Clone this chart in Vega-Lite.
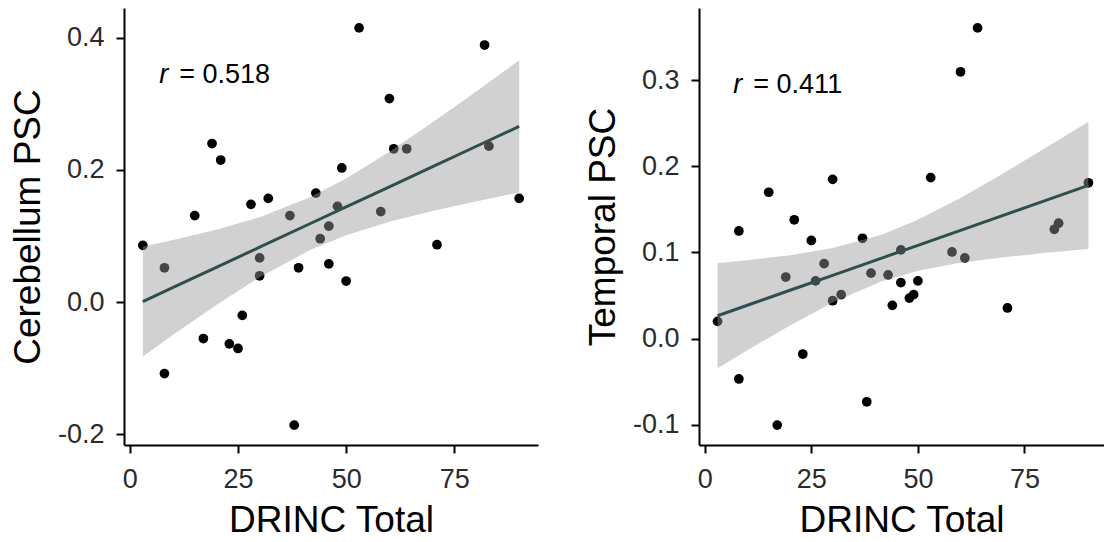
{
  "$schema": "https://vega.github.io/schema/vega-lite/v6.json",
  "padding": {"left": 9, "top": 8, "right": 0, "bottom": 0},
  "background": "white",
  "spacing": 46,
  "config": {
    "font": "Liberation Sans",
    "view": {"stroke": null},
    "axis": {
      "grid": false,
      "domainColor": "#000000",
      "domainWidth": 2,
      "tickColor": "#000000",
      "tickWidth": 2,
      "tickSize": 8,
      "labelFont": "Liberation Sans",
      "labelFontSize": 27,
      "labelColor": "#2b2b2b",
      "labelPadding": 12,
      "titleFont": "Liberation Sans",
      "titleFontSize": 37,
      "titleFontWeight": "normal",
      "titleColor": "#000000"
    },
    "axisY": {"titlePadding": 10},
    "axisX": {"titlePadding": 10, "labelPadding": 13}
  },
  "hconcat": [
    {
      "width": 414,
      "height": 437,
      "encoding": {
        "x": {"field": "drinc", "type": "quantitative", "title": "DRINC Total",
              "scale": {"domain": [-1.35, 94.35], "nice": false, "zero": false},
              "axis": {"values": [0, 25, 50, 75]}},
        "y": {"field": "psc", "type": "quantitative", "title": "Cerebellum PSC",
              "scale": {"domain": [-0.216, 0.445], "nice": false, "zero": false},
              "axis": {"values": [-0.2, 0, 0.2, 0.4], "labelExpr": "replace(format(datum.value, '.1f'), '\u2212', '-')"}}
      },
      "layer": [
        {
          "data": {"values": [
            {"drinc": 3, "psc": 0.086}, {"drinc": 8, "psc": 0.052}, {"drinc": 8, "psc": -0.108},
            {"drinc": 15, "psc": 0.131}, {"drinc": 19, "psc": 0.240}, {"drinc": 21, "psc": 0.215},
            {"drinc": 17, "psc": -0.055}, {"drinc": 23, "psc": -0.063}, {"drinc": 25, "psc": -0.070},
            {"drinc": 26, "psc": -0.020}, {"drinc": 28, "psc": 0.148}, {"drinc": 32, "psc": 0.157},
            {"drinc": 30, "psc": 0.067}, {"drinc": 30, "psc": 0.040}, {"drinc": 37, "psc": 0.131},
            {"drinc": 39, "psc": 0.052}, {"drinc": 38, "psc": -0.186}, {"drinc": 43, "psc": 0.165},
            {"drinc": 44, "psc": 0.096}, {"drinc": 53, "psc": 0.415}, {"drinc": 82, "psc": 0.389},
            {"drinc": 60, "psc": 0.308}, {"drinc": 61, "psc": 0.232}, {"drinc": 64, "psc": 0.232},
            {"drinc": 49, "psc": 0.203}, {"drinc": 48, "psc": 0.145}, {"drinc": 46, "psc": 0.115},
            {"drinc": 46, "psc": 0.058}, {"drinc": 50, "psc": 0.032}, {"drinc": 58, "psc": 0.137},
            {"drinc": 71, "psc": 0.087}, {"drinc": 83, "psc": 0.236}, {"drinc": 90, "psc": 0.157}
          ]},
          "mark": {"type": "circle", "size": 95, "color": "#000000", "opacity": 1}
        },
        {
          "data": {"name": "bandL", "values": [
            {"drinc": 3, "psc": 0.001, "lo": -0.082, "hi": 0.084},
            {"drinc": 10, "psc": 0.0223, "lo": -0.0494, "hi": 0.0940},
            {"drinc": 20, "psc": 0.0528, "lo": -0.0041, "hi": 0.1097},
            {"drinc": 30, "psc": 0.0832, "lo": 0.0378, "hi": 0.1286},
            {"drinc": 41.5, "psc": 0.1183, "lo": 0.0784, "hi": 0.1582},
            {"drinc": 50, "psc": 0.1442, "lo": 0.1012, "hi": 0.1872},
            {"drinc": 60, "psc": 0.1746, "lo": 0.1216, "hi": 0.2276},
            {"drinc": 70, "psc": 0.2051, "lo": 0.1381, "hi": 0.2721},
            {"drinc": 80, "psc": 0.2355, "lo": 0.1525, "hi": 0.3185},
            {"drinc": 90, "psc": 0.266, "lo": 0.166, "hi": 0.366}
          ]},
          "mark": {"type": "area", "color": "#999999", "opacity": 0.45},
          "encoding": {
            "y": {"field": "lo", "type": "quantitative", "title": "Cerebellum PSC",
                  "scale": {"domain": [-0.216, 0.445], "nice": false, "zero": false}},
            "y2": {"field": "hi"}
          }
        },
        {
          "data": {"name": "bandL"},
          "mark": {"type": "line", "color": "#2F4F4F", "strokeWidth": 3},
          "encoding": {}
        },
        {
          "data": {"values": [{"drinc": 6.8, "psc": 0.3316, "lab": "r"}]},
          "mark": {"type": "text", "align": "left", "baseline": "alphabetic", "fontSize": 27, "fontStyle": "italic", "color": "#000000"},
          "encoding": {"text": {"field": "lab"}}
        },
        {
          "data": {"values": [{"drinc": 6.8, "psc": 0.3316, "lab": "= 0.518"}]},
          "mark": {"type": "text", "align": "left", "baseline": "alphabetic", "fontSize": 27, "dx": 20, "color": "#000000"},
          "encoding": {"text": {"field": "lab"}}
        }
      ]
    },
    {
      "width": 405,
      "height": 437,
      "encoding": {
        "x": {"field": "drinc", "type": "quantitative", "title": "DRINC Total",
              "scale": {"domain": [-1.35, 93.65], "nice": false, "zero": false},
              "axis": {"values": [0, 25, 50, 75]}},
        "y": {"field": "psc", "type": "quantitative", "title": "Temporal PSC",
              "scale": {"domain": [-0.1237, 0.3841], "nice": false, "zero": false},
              "axis": {"values": [-0.1, 0, 0.1, 0.2, 0.3], "labelExpr": "replace(format(datum.value, '.1f'), '\u2212', '-')"}}
      },
      "layer": [
        {
          "data": {"values": [
            {"drinc": 3, "psc": 0.020}, {"drinc": 8, "psc": 0.125}, {"drinc": 8, "psc": -0.047},
            {"drinc": 15, "psc": 0.170}, {"drinc": 17, "psc": -0.1006}, {"drinc": 19, "psc": 0.0715},
            {"drinc": 21, "psc": 0.138}, {"drinc": 23, "psc": -0.018}, {"drinc": 25, "psc": 0.114},
            {"drinc": 26, "psc": 0.067}, {"drinc": 28, "psc": 0.087}, {"drinc": 30, "psc": 0.185},
            {"drinc": 30, "psc": 0.044}, {"drinc": 32, "psc": 0.051}, {"drinc": 37, "psc": 0.1165},
            {"drinc": 39, "psc": 0.076}, {"drinc": 38, "psc": -0.0735}, {"drinc": 43, "psc": 0.074},
            {"drinc": 44, "psc": 0.0386}, {"drinc": 46, "psc": 0.103}, {"drinc": 46, "psc": 0.065},
            {"drinc": 64, "psc": 0.361}, {"drinc": 60, "psc": 0.310}, {"drinc": 53, "psc": 0.187},
            {"drinc": 50, "psc": 0.067}, {"drinc": 48, "psc": 0.047}, {"drinc": 49, "psc": 0.051},
            {"drinc": 58, "psc": 0.1006}, {"drinc": 61, "psc": 0.0936}, {"drinc": 71, "psc": 0.0355},
            {"drinc": 82, "psc": 0.127}, {"drinc": 83, "psc": 0.134}, {"drinc": 90, "psc": 0.181}
          ]},
          "mark": {"type": "circle", "size": 95, "color": "#000000", "opacity": 1}
        },
        {
          "data": {"name": "bandR", "values": [
            {"drinc": 3, "psc": 0.0265, "lo": -0.0345, "hi": 0.0875},
            {"drinc": 10, "psc": 0.0387, "lo": -0.0136, "hi": 0.0910},
            {"drinc": 20, "psc": 0.0561, "lo": 0.0153, "hi": 0.0969},
            {"drinc": 30, "psc": 0.0735, "lo": 0.0419, "hi": 0.1051},
            {"drinc": 41.5, "psc": 0.0935, "lo": 0.0665, "hi": 0.1205},
            {"drinc": 50, "psc": 0.1083, "lo": 0.0787, "hi": 0.1379},
            {"drinc": 60, "psc": 0.1257, "lo": 0.0880, "hi": 0.1634},
            {"drinc": 70, "psc": 0.1431, "lo": 0.0944, "hi": 0.1918},
            {"drinc": 80, "psc": 0.1606, "lo": 0.0996, "hi": 0.2216},
            {"drinc": 90, "psc": 0.178, "lo": 0.104, "hi": 0.252}
          ]},
          "mark": {"type": "area", "color": "#999999", "opacity": 0.45},
          "encoding": {
            "y": {"field": "lo", "type": "quantitative", "title": "Temporal PSC",
                  "scale": {"domain": [-0.1237, 0.3841], "nice": false, "zero": false}},
            "y2": {"field": "hi"}
          }
        },
        {
          "data": {"name": "bandR"},
          "mark": {"type": "line", "color": "#2F4F4F", "strokeWidth": 3},
          "encoding": {}
        },
        {
          "data": {"values": [{"drinc": 6.7, "psc": 0.2853, "lab": "r"}]},
          "mark": {"type": "text", "align": "left", "baseline": "alphabetic", "fontSize": 27, "fontStyle": "italic", "color": "#000000"},
          "encoding": {"text": {"field": "lab"}}
        },
        {
          "data": {"values": [{"drinc": 6.7, "psc": 0.2853, "lab": "= 0.411"}]},
          "mark": {"type": "text", "align": "left", "baseline": "alphabetic", "fontSize": 27, "dx": 20, "color": "#000000"},
          "encoding": {"text": {"field": "lab"}}
        }
      ]
    }
  ]
}
